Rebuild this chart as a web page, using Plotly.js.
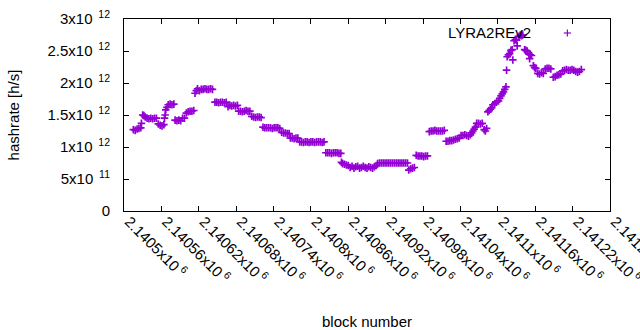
<!DOCTYPE html>
<html>
<head>
<meta charset="utf-8">
<script src="https://cdn.plot.ly/plotly-3.0.1.min.js"></script>
<style>html,body{margin:0;padding:0;background:#fff}#chart{width:640px;height:330px}</style>
</head>
<body>
<div id="chart"></div>
<script>
// block numbers (x) and hashrate in units of 1e12 h/s (y)
const blocks = [
2140515,2140518,2140521,2140524,2140527,2140528,
2140530,2140532,2140534,2140537,2140540,2140543,2140546,2140549,2140552,
2140555,2140558,2140561,2140564,
2140565,2140566,2140567,2140569,2140571,2140574,2140577,2140580,
2140582,2140585,2140588,2140591,2140594,2140597,
2140600,2140603,2140606,2140609,2140612,
2140614,2140616,2140618,2140621,2140624,2140627,2140630,2140633,2140636,2140639,2140642,
2140646,2140649,2140652,2140655,2140658,2140661,2140664,
2140667,2140670,2140673,2140676,2140679,2140682,
2140684,2140687,2140690,2140693,2140696,2140699,2140702,
2140705,2140708,2140711,2140714,2140717,2140720,
2140723,2140726,2140729,2140732,2140735,2140738,2140741,2140744,2140747,2140750,
2140753,2140756,2140759,2140762,2140765,
2140767,2140770,2140773,2140776,2140779,
2140782,2140785,2140788,2140791,2140794,2140797,2140800,2140803,2140806,2140809,2140812,2140815,2140818,2140821,
2140824,2140827,2140830,2140833,2140836,2140839,2140842,2140845,2140848,
2140849,2140851,2140854,2140857,2140860,
2140863,2140866,2140869,2140872,2140875,2140878,2140881,2140884,2140887,2140890,2140893,2140896,2140899,2140902,2140905,
2140907,2140910,2140913,2140916,2140919,2140922,2140925,2140928,2140931,2140934,2140937,2140940,2140943,2140946,2140949,2140952,2140955,
2140957,2140960,2140963,2140966,
2140969,2140972,2140975,2140978,2140981,2140984,2140987,
2140990,2140993,2140996,2140999,2141002,2141005,2141008,2141011,2141014,
2141017,2141020,2141023,2141026,2141029,2141032,2141035,2141038,
2141041,2141044,2141047,2141050,2141053,2141056,
2141058,2141060,2141062,2141064,
2141066,2141069,2141072,2141075,
2141078,2141080,2141082,
2141084,2141086,2141088,2141090,
2141092,2141095,2141098,2141101,
2141103,2141105,2141107,2141109,2141111,2141113,
2141114,
2141115,2141117,2141119,
2141121,2141123,2141124,
2141126,2141128,2141130,2141131,
2141134,2141136,2141138,2141140,
2141143,2141145,2141147,
2141150,2141151,2141152,2141154,
2141157,2141159,2141161,
2141164,2141167,2141170,2141173,2141176,2141179,2141182,2141185,
2141189,2141192,2141195,2141198,2141201,
2141204,2141207,2141210,2141213,2141216,2141219,2141222,2141225,2141228,2141231,2141234
];
const hashrateT = [
1.27,1.26,1.28,1.29,1.30,1.37,
1.50,1.49,1.47,1.45,1.44,1.45,1.44,1.45,1.45,
1.36,1.34,1.33,1.35,
1.45,1.50,1.58,1.62,1.66,1.67,1.66,1.67,
1.42,1.41,1.42,1.41,1.45,1.45,
1.53,1.55,1.56,1.56,1.57,
1.84,1.88,1.91,1.88,1.90,1.90,1.91,1.90,1.90,1.91,1.90,
1.70,1.70,1.69,1.70,1.70,1.69,1.70,
1.63,1.65,1.64,1.65,1.64,1.65,
1.56,1.56,1.55,1.56,1.57,1.56,1.56,
1.48,1.47,1.46,1.47,1.47,1.46,
1.31,1.30,1.30,1.30,1.30,1.29,1.30,1.30,1.30,1.29,
1.23,1.22,1.22,1.21,1.21,
1.14,1.14,1.13,1.14,1.14,
1.08,1.08,1.07,1.08,1.08,1.07,1.08,1.08,1.07,1.08,1.08,1.08,1.07,1.08,
0.91,0.91,0.91,0.90,0.91,0.91,0.91,0.90,0.90,
0.76,0.74,0.73,0.72,0.71,
0.68,0.70,0.67,0.69,0.70,0.67,0.68,0.70,0.68,0.67,0.69,0.68,0.67,0.69,0.71,
0.74,0.75,0.75,0.75,0.75,0.75,0.75,0.75,0.75,0.75,0.75,0.75,0.75,0.75,0.75,0.75,0.75,
0.64,0.66,0.67,0.68,
0.87,0.86,0.86,0.86,0.85,0.86,0.86,
1.24,1.25,1.25,1.26,1.25,1.25,1.25,1.25,1.26,
1.09,1.09,1.10,1.10,1.11,1.12,1.13,1.14,
1.18,1.18,1.19,1.18,1.17,1.19,
1.22,1.25,1.28,1.31,
1.37,1.37,1.36,1.37,
1.27,1.25,1.29,
1.55,1.57,1.59,1.61,
1.66,1.68,1.70,1.72,
1.76,1.80,1.83,1.86,1.90,1.94,
2.20,
2.41,2.44,2.46,
2.51,2.52,2.36,
2.66,2.68,2.67,2.58,
2.73,2.75,2.74,2.75,
2.52,2.51,2.50,
2.45,2.38,2.44,2.43,
2.27,2.24,2.23,
2.15,2.14,2.16,2.15,2.22,2.23,2.23,2.22,
2.09,2.10,2.12,2.13,2.14,
2.19,2.20,2.21,2.20,2.20,2.21,2.20,2.18,2.17,2.18,2.21
];
const seriesName = 'LYRA2REv2';
const xTickVals = [2140500,2140560,2140620,2140680,2140740,2140800,2140860,2140920,2140980,2141040,2141100,2141160,2141220,2141280];
const xTickText = ['2.1405','2.14056','2.14062','2.14068','2.14074','2.1408','2.14086','2.14092','2.14098','2.14104','2.1411','2.14116','2.14122','2.14128'];
const yTickVals = [0,0.5e12,1e12,1.5e12,2e12,2.5e12,3e12];
const yTickText = ['0','5x10<sup>\u00a0\u00a011</sup>','1x10<sup>\u00a0\u00a012</sup>','1.5x10<sup>\u00a0\u00a012</sup>','2x10<sup>\u00a0\u00a012</sup>','2.5x10<sup>\u00a0\u00a012</sup>','3x10<sup>\u00a0\u00a012</sup>'];

const color = '#9400d3';
const font = {family: 'Liberation Sans, Arial, sans-serif', size: 15, color: '#000'};

const trace = {
  x: blocks,
  y: hashrateT.map(v => v * 1e12),
  type: 'scatter',
  mode: 'markers',
  name: seriesName,
  marker: {symbol: 'cross-thin-open', size: 5.4, color: color, line: {color: color, width: 1.7}},
  showlegend: false,
  hoverinfo: 'x+y'
};

const L = 124, R = 640 - 609.6, T = 19, B = 330 - 211;

const layout = {
  width: 640, height: 330,
  margin: {l: L, r: R, t: T, b: B, pad: 0},
  paper_bgcolor: '#fff', plot_bgcolor: '#fff',
  font: font,
  showlegend: false,
  xaxis: {
    range: [2140500, 2141280],
    tickvals: xTickVals,
    ticktext: xTickText.map(t => t + 'x10<sup> 6</sup>'),
    tickangle: 45,
    ticklabeloverflow: 'allow',
    ticklabelshift: 5,
    ticklabelstandoff: -5,
    ticks: 'inside', ticklen: 5, tickcolor: '#000', tickwidth: 1,
    showline: true, linecolor: '#000', linewidth: 1, mirror: 'ticks',
    showgrid: false, zeroline: false,
    tickfont: font,
    title: {text: 'block number', font: font, standoff: 30},
    automargin: false
  },
  yaxis: {
    range: [0, 3e12],
    tickvals: yTickVals,
    ticktext: yTickText,
    ticklabelstandoff: 10,
    ticks: 'inside', ticklen: 5, tickcolor: '#000', tickwidth: 1,
    showline: true, linecolor: '#000', linewidth: 1, mirror: 'ticks',
    showgrid: false, zeroline: false,
    tickfont: font,
    title: {text: 'hashrate [h/s]', font: font, standoff: 24},
    automargin: false
  },
  annotations: [{
    xref: 'paper', yref: 'paper', x: (533 - L) / (640 - L - R), y: (211 - 32) / (211 - T),
    xanchor: 'right', yanchor: 'middle', showarrow: false,
    text: seriesName, font: font
  }],
  shapes: [
    {type: 'line', xref: 'paper', yref: 'paper', xsizemode: 'pixel', ysizemode: 'pixel',
     xanchor: (567 - L) / (640 - L - R), yanchor: (211 - 33) / (211 - T),
     x0: -3.6, x1: 3.6, y0: 0, y1: 0, line: {color: color, width: 1.2}},
    {type: 'line', xref: 'paper', yref: 'paper', xsizemode: 'pixel', ysizemode: 'pixel',
     xanchor: (567 - L) / (640 - L - R), yanchor: (211 - 33) / (211 - T),
     x0: 0, x1: 0, y0: -3.6, y1: 3.6, line: {color: color, width: 1.2}}
  ]
};

Plotly.newPlot('chart', [trace], layout, {displayModeBar: false, staticPlot: true});
</script>
</body>
</html>
